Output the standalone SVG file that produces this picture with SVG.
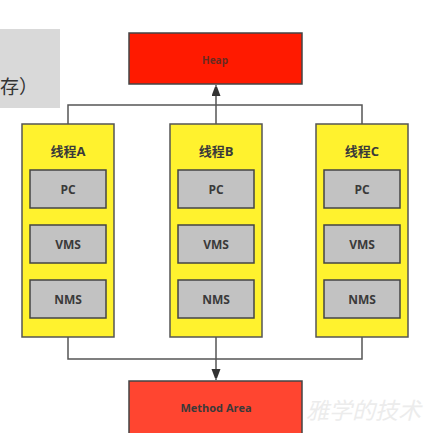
<svg xmlns="http://www.w3.org/2000/svg" width="448" height="433" viewBox="0 0 448 433">
<defs>
<style>
.thread{fill:#fff22e;stroke:#555;stroke-width:1.5}
.cell{fill:#c2c2c2;stroke:#444;stroke-width:1.5}
.lbl{font-family:"Open Sans","Liberation Sans","Noto Sans CJK SC",sans-serif;font-weight:bold;fill:#3a3a3a;text-anchor:middle}
.conn{fill:none;stroke:#555;stroke-width:1.5}
</style>
<marker id="arr" markerWidth="9" markerHeight="12" refX="11" refY="4.5" orient="auto" markerUnits="userSpaceOnUse">
<path d="M0,0 L12,4.5 L0,9 Z" fill="#333"/>
</marker>
</defs>
<rect width="448" height="433" fill="#fff"/>
<g id="note">
<rect x="0" y="29" width="60" height="79" fill="#d9d9d9"/>
<text x="0" y="94" font-family="'Noto Sans CJK SC',sans-serif" font-size="19" fill="#333">存）</text>
</g>
<g id="connectors">
<polyline class="conn" points="68,124 68,105 362,105 362,124"/>
<line class="conn" x1="216" y1="124" x2="216" y2="85" stroke="#333" marker-end="url(#arr)"/>
<polyline class="conn" points="68,337 68,359 362,359 362,337"/>
<line class="conn" x1="216" y1="337" x2="216" y2="380" stroke="#333" marker-end="url(#arr)"/>
</g>
<g id="heap">
<rect x="129" y="33" width="173" height="51" fill="#ff1a00" stroke="#444" stroke-width="1.5"/>
<text class="lbl" x="215" y="64" font-size="10" style="fill:#6a2a20">Heap</text>
</g>
<g id="threadA">
<rect class="thread" x="22" y="124" width="92" height="213"/>
<text class="lbl" x="68" y="156" font-size="13">线程A</text>
<rect class="cell" x="30" y="170" width="76" height="38"/><text class="lbl" x="68" y="194" font-size="12">PC</text>
<rect class="cell" x="30" y="225" width="76" height="38"/><text class="lbl" x="68" y="249" font-size="12">VMS</text>
<rect class="cell" x="30" y="280" width="76" height="38"/><text class="lbl" x="68" y="304" font-size="12">NMS</text>
</g>
<g id="threadB">
<rect class="thread" x="170" y="124" width="92" height="213"/>
<text class="lbl" x="216" y="156" font-size="13">线程B</text>
<rect class="cell" x="178" y="170" width="76" height="38"/><text class="lbl" x="216" y="194" font-size="12">PC</text>
<rect class="cell" x="178" y="225" width="76" height="38"/><text class="lbl" x="216" y="249" font-size="12">VMS</text>
<rect class="cell" x="178" y="280" width="76" height="38"/><text class="lbl" x="216" y="304" font-size="12">NMS</text>
</g>
<g id="threadC">
<rect class="thread" x="316" y="124" width="92" height="213"/>
<text class="lbl" x="362" y="156" font-size="13">线程C</text>
<rect class="cell" x="324" y="170" width="76" height="38"/><text class="lbl" x="362" y="194" font-size="12">PC</text>
<rect class="cell" x="324" y="225" width="76" height="38"/><text class="lbl" x="362" y="249" font-size="12">VMS</text>
<rect class="cell" x="324" y="280" width="76" height="38"/><text class="lbl" x="362" y="304" font-size="12">NMS</text>
</g>
<g id="methodArea">
<rect x="129" y="381" width="173" height="55" fill="#ff4530" stroke="#444" stroke-width="1.5"/>
<text class="lbl" x="216" y="412" font-size="11">Method Area</text>
</g>
<text x="306" y="419" font-family="'Noto Sans CJK SC',sans-serif" font-size="23" fill="#ececec" font-style="italic">雅学的技术</text>
</svg>
